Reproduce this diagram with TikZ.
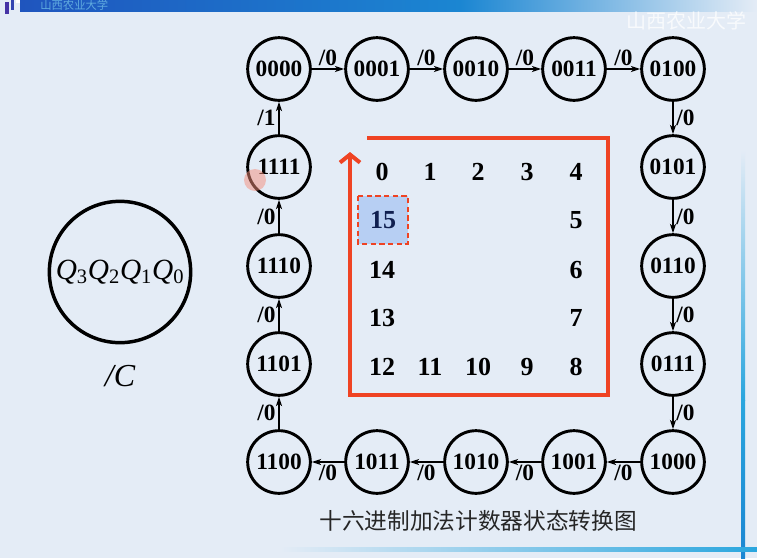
\documentclass[tikz,border=0pt]{standalone}
\usepackage{fontspec}
\setmainfont{Liberation Serif}
\newfontfamily\cjk{Noto Sans CJK SC}
\usetikzlibrary{arrows.meta,positioning}
\definecolor{slidebg}{HTML}{E4ECF6}
\definecolor{markred}{HTML}{EF4323}
\definecolor{cellblue}{HTML}{B7CFF3}
\definecolor{navy}{HTML}{102050}
\definecolor{bannerdark}{HTML}{1F55BE}
\definecolor{bannermid}{HTML}{1B86D2}
\definecolor{linecyan}{HTML}{2AA6DE}

\begin{document}
\begin{tikzpicture}[x=0.75pt,y=-0.75pt,
  every node/.style={font=\bfseries\fontsize{19.5}{21}\selectfont},
  state/.style={draw,circle,line width=2.2pt,minimum size=47pt,inner sep=0pt,font=\bfseries\fontsize{17.5}{19}\selectfont},
  trans/.style={-{Stealth[length=7pt,width=4.5pt,inset=2pt]},line width=1.1pt},
  lbl/.style={inner sep=2pt,font=\bfseries\fontsize{17.5}{19}\selectfont}]
\fill[slidebg] (0,0) rectangle (757,558);
\useasboundingbox (0,0) rectangle (757,558);
% slide decoration
\shade[left color=bannerdark,right color=bannermid] (20,0) rectangle (460,11);
\shade[left color=bannermid,right color=slidebg] (460,0) rectangle (757,11);
\fill[bannerdark!60!violet] (5,2) rectangle (9,14);
\fill[bannerdark!80!violet] (11,0) rectangle (14,10);
\fill[white] (16,0) rectangle (20,3);
\node[font=\cjk\fontsize{8.5}{9}\selectfont,text=bannermid!70!white,anchor=west,inner sep=0pt] (school) at (40,5) {山西农业大学};
\node[font=\cjk\fontsize{15}{16}\selectfont,text=white,opacity=.75,anchor=west,inner sep=0pt] (mark) at (626,21) {山西农业大学};
\shade[top color=slidebg,bottom color=linecyan] (741,150) rectangle (745,400);
\shade[top color=linecyan,bottom color=bannermid] (741,400) rectangle (745,558);
\shade[left color=slidebg,right color=linecyan] (280,547) rectangle (757,551);
% states
\node[state] (s0) at (279,69) {0000};
\node[state] (s1) at (377,69) {0001};
\node[state] (s2) at (476,69) {0010};
\node[state] (s3) at (574,69) {0011};
\node[state] (s4) at (673,69) {0100};
\node[state] (s5) at (673,167) {0101};
\node[state] (s6) at (673,266) {0110};
\node[state] (s7) at (673,364) {0111};
\node[state] (s8) at (673,462) {1000};
\node[state] (s9) at (574,462) {1001};
\node[state] (s10) at (476,462) {1010};
\node[state] (s11) at (377,462) {1011};
\node[state] (s12) at (279,462) {1100};
\node[state] (s13) at (279,364) {1101};
\node[state] (s14) at (279,266) {1110};
\node[state] (s15) at (279,167) {1111};
\draw[trans] (s0) -- node[lbl,above] {/0} (s1);
\draw[trans] (s1) -- node[lbl,above] {/0} (s2);
\draw[trans] (s2) -- node[lbl,above] {/0} (s3);
\draw[trans] (s3) -- node[lbl,above] {/0} (s4);
\draw[trans] (s4) -- node[lbl,right] {/0} (s5);
\draw[trans] (s5) -- node[lbl,right] {/0} (s6);
\draw[trans] (s6) -- node[lbl,right] {/0} (s7);
\draw[trans] (s7) -- node[lbl,right] {/0} (s8);
\draw[trans] (s8) -- node[lbl,below] {/0} (s9);
\draw[trans] (s9) -- node[lbl,below] {/0} (s10);
\draw[trans] (s10) -- node[lbl,below] {/0} (s11);
\draw[trans] (s11) -- node[lbl,below] {/0} (s12);
\draw[trans] (s12) -- node[lbl,left] {/0} (s13);
\draw[trans] (s13) -- node[lbl,left] {/0} (s14);
\draw[trans] (s14) -- node[lbl,left] {/0} (s15);
\draw[trans] (s15) -- node[lbl,left] {/1} (s0);
% pointer spot
\fill[markred!60,opacity=.5] (255,180) circle (11);
% counting order
\draw[markred,line width=3pt,-{Straight Barb[length=6pt,width=15pt]}] (367,138) -- (608,138) -- (608,395) -- (350,395) -- (350,152);
\draw[markred,fill=cellblue,line width=1.5pt,dash pattern=on 4pt off 2.5pt] (358,196) rectangle (408,244);
\foreach \v/\x/\y in {0/382/172,1/430/172,2/478/172,3/527/172,4/576/172,
  5/576/220,6/576/270,7/576/318,8/576/367,9/527/367,10/478/367,11/430/367,
  12/382/367,13/382/318,14/382/270}
  \node (n\v) at (\x,\y) {\v};
\node[text=navy] (n15) at (383,220) {15};
% legend
\node[draw,circle,line width=2.6pt,minimum size=106pt,inner sep=0pt,font=\fontsize{22}{24}\selectfont] (legend) at (120,272)
  {\textit{Q}\textsubscript{3}\textit{Q}\textsubscript{2}\textit{Q}\textsubscript{1}\textit{Q}\textsubscript{0}};
\node[below=12pt of legend,font=\itshape\fontsize{24}{26}\selectfont] (carry) {/C};
\node[font=\cjk\fontsize{17}{20}\selectfont,text=black!85] (caption) at (478,521) {十六进制加法计数器状态转换图};
\end{tikzpicture}
\end{document}
